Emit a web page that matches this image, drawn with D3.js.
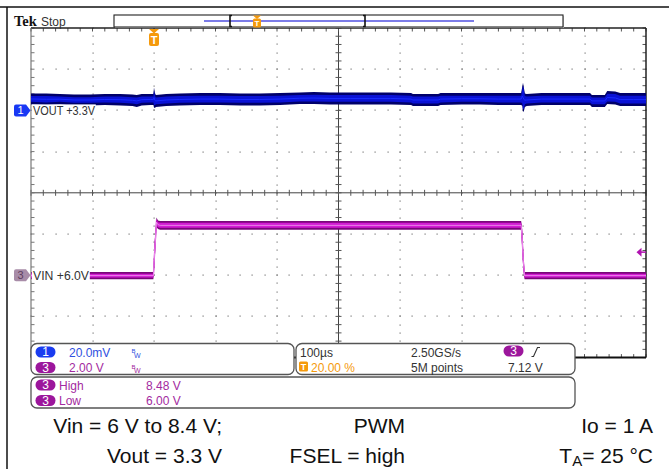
<!DOCTYPE html>
<html><head><meta charset="utf-8">
<script src="https://cdn.jsdelivr.net/npm/d3@7"></script>
<style>html,body{margin:0;padding:0;background:#fff;}svg{display:block;font-family:"Liberation Sans",Arial,sans-serif;}</style>
</head><body><div id="chart"></div>
<script>
// ---------------- DATA ----------------
const timeRange = [-200, 800];          // µs, 100 µs/div, trigger at 0 (20 %)
const ch1Range = [-120, 40];            // mV relative to the +3.3 V offset, 20 mV/div
const ch3Range = [2, 18];               // V, 2 V/div, offset 6 V
const ch1Offset = 0;                    // mV (VOUT +3.3V marker)
const ch3Offset = 6.0;                  // V  (VIN +6.0V marker)
const triggerLevel = 7.12;              // V

// VOUT band envelope (mV above 3.3 V)
const voutT  = [-200,-175,-153,-130,-104,-80,-55,-35,-28,-20,-6,-1,0,1.5,3,20,42,75,107,140,172,205,237,260,286,320,351,385,418,421,440,462,466,500,530,560,590,597,599,600,601.5,603,606,630,660,690,709,712,733,737,750,758,780,800];
const voutHi = [8.2,8.2,8.0,7.7,7.7,8.0,8.0,7.7,7.5,8.0,8.0,8.0,11.1,8.4,7.5,8.0,8.2,8.4,8.4,8.2,8.2,8.4,8.7,8.9,8.7,8.7,8.7,8.7,8.4,8.0,8.0,8.0,8.4,8.4,8.4,8.4,8.4,8.4,11.8,13.4,10.9,8.2,8.0,8.4,8.4,8.4,8.4,7.5,7.5,9.4,9.2,8.4,8.4,8.4];
const voutLo = [2.9,2.6,2.9,2.4,2.4,2.6,2.4,2.1,1.7,2.4,2.6,2.6,1.4,1.2,1.7,2.1,2.4,2.6,2.6,2.4,2.4,2.6,3.1,3.1,2.9,2.9,2.9,2.9,2.6,2.1,2.1,2.1,2.6,2.9,2.9,2.6,2.6,2.6,2.1,-0.8,-0.3,1.7,2.1,2.6,2.6,2.6,2.6,1.7,1.7,3.1,2.9,2.1,2.1,2.1];

// VIN band envelope (V)
const vinT  = [-200,-1,1,4,6.5,10,597,598.5,600.5,602.5,800];
const vinHi = [6.16,6.16,7.6,8.80,8.66,8.63,8.63,8.3,7.1,6.16,6.16];
const vinLo = [5.80,5.80,6.6,8.34,8.24,8.21,8.21,7.4,6.3,5.80,5.80];

// texts
const ch1Label = "VOUT +3.3V";
const ch3Label = "VIN +6.0V";
const ch1Scale = "20.0mV";
const ch3Scale = "2.00 V";
const timebase = "100µs";
const trigPos = "20.00 %";
const sampleRate = "2.50GS/s";
const recordLen = "5M points";
const trigLevelText = "7.12 V";
const measNames = ["High", "Low"];
const measValues = ["8.48 V", "6.00 V"];
const notesLeft = ["Vin = 6 V to 8.4 V;", "Vout = 3.3 V"];
const notesMid = ["PWM", "FSEL = high"];
const notesRight = ["Io = 1 A", "= 25 °C"];

// ---------------- DRAWING ----------------
const W = 669, H = 469;
const svg = d3.select('#chart').append('svg').attr('width', W).attr('height', H);
svg.append('rect').attr('width', W).attr('height', H).attr('fill', '#fff');

// outer frame lines
svg.append('line').attr('x1', 0).attr('x2', W).attr('y1', 7).attr('y2', 7).attr('stroke', '#111').attr('stroke-width', 1.5);
svg.append('line').attr('x1', 7).attr('x2', 7).attr('y1', 7).attr('y2', H).attr('stroke', '#111').attr('stroke-width', 1.5);

const L = 31, R = 646, T = 28, B = 357.6;
const x = d3.scaleLinear().domain(timeRange).range([L, R]);
const yOut = d3.scaleLinear().domain(ch1Range).range([B, T]);
const yIn = d3.scaleLinear().domain(ch3Range).range([B, T]);
const xDiv = (R - L) / 10, yDiv = (B - T) / 8;
const xMid = (L + R) / 2, yMid = (T + B) / 2;

// grid dots
const g = svg.append('g');
const dots = [];
for (let i = 1; i < 10; i++) {
  if (i === 5) continue;
  const gx = L + i * xDiv;
  for (let k = 0; k <= 40; k++) dots.push([gx, T + k * yDiv / 5]);
}
for (let j = 1; j < 8; j++) {
  if (j === 4) continue;
  const gy = T + j * yDiv;
  for (let k = 0; k <= 50; k++) dots.push([L + k * xDiv / 5, gy]);
}
g.selectAll('rect.dot').data(dots).join('rect').attr('class', 'dot')
  .attr('x', d => Math.round(d[0]) - 0.5).attr('y', d => Math.round(d[1]) - 0.5)
  .attr('width', 1.2).attr('height', 1.2).attr('fill', '#7a7a7a');

// centre cross with ticks
g.append('line').attr('x1', L).attr('x2', R).attr('y1', yMid).attr('y2', yMid).attr('stroke', '#444').attr('stroke-width', 1);
g.append('line').attr('x1', xMid).attr('x2', xMid).attr('y1', T).attr('y2', B).attr('stroke', '#444').attr('stroke-width', 1);
const ticksX = d3.range(0, 51).map(k => L + k * xDiv / 5);
const ticksY = d3.range(0, 41).map(k => T + k * yDiv / 5);
ticksX.forEach(tx => {
  g.append('line').attr('x1', tx).attr('x2', tx).attr('y1', yMid - 3).attr('y2', yMid + 3).attr('stroke', '#555');
  g.append('line').attr('x1', tx).attr('x2', tx).attr('y1', T).attr('y2', T + 3.5).attr('stroke', '#555');
  g.append('line').attr('x1', tx).attr('x2', tx).attr('y1', B - 3.5).attr('y2', B).attr('stroke', '#555');
});
ticksY.forEach(ty => {
  g.append('line').attr('x1', xMid - 3).attr('x2', xMid + 3).attr('y1', ty).attr('y2', ty).attr('stroke', '#555');
  g.append('line').attr('x1', L).attr('x2', L + 3.5).attr('y1', ty).attr('y2', ty).attr('stroke', '#777');
  g.append('line').attr('x1', R - 3.5).attr('x2', R).attr('y1', ty).attr('y2', ty).attr('stroke', '#555');
});
// border
g.append('line').attr('x1', L).attr('x2', R).attr('y1', T).attr('y2', T).attr('stroke', '#222').attr('stroke-width', 1.3);
g.append('line').attr('x1', R).attr('x2', R).attr('y1', T).attr('y2', B).attr('stroke', '#222').attr('stroke-width', 1.5);
g.append('line').attr('x1', L).attr('x2', R).attr('y1', B).attr('y2', B).attr('stroke', '#111').attr('stroke-width', 2);
g.append('line').attr('x1', L).attr('x2', L).attr('y1', T).attr('y2', B).attr('stroke', '#777').attr('stroke-width', 1.2);

// clip
svg.append('clipPath').attr('id', 'plotclip').append('rect').attr('x', L).attr('y', T).attr('width', R - L).attr('height', B - T);
const traces = svg.append('g').attr('clip-path', 'url(#plotclip)');

// VOUT trace
const vout = voutT.map((t, i) => ({ t, hi: voutHi[i], lo: voutLo[i] }));
traces.append('path').datum(vout).attr('fill', '#00006a')
  .attr('d', d3.area().x(d => x(d.t)).y1(d => yOut(d.hi)).y0(d => yOut(d.lo)));
traces.append('path').datum(vout).attr('fill', '#0a12d6')
  .attr('d', d3.area().x(d => x(d.t)).y1(d => yOut(d.hi) + 2.6).y0(d => yOut(d.lo) - 2.6));
traces.append('path').datum(vout).attr('fill', 'none').attr('stroke', '#1a2cff').attr('stroke-width', 1)
  .attr('d', d3.line().x(d => x(d.t)).y(d => yOut((d.hi + d.lo) / 2)));

// VIN trace
const vin = vinT.map((t, i) => ({ t, hi: vinHi[i], lo: vinLo[i] }));
traces.append('path').datum(vin).attr('fill', '#7a067a')
  .attr('d', d3.area().x(d => x(d.t)).y1(d => yIn(d.hi)).y0(d => yIn(d.lo)));
traces.append('path').datum(vin).attr('fill', '#d41ad4')
  .attr('d', d3.area().x(d => x(d.t)).y1(d => yIn(d.hi) + 1.8).y0(d => yIn(d.lo) - 1.8));
traces.append('path').datum(vin).attr('fill', 'none').attr('stroke', '#c010c0').attr('stroke-width', 1.3)
  .attr('d', d3.line().x(d => x(d.t)).y(d => yIn((d.hi + d.lo) / 2)));
traces.append('path').datum(vin).attr('fill', 'none').attr('stroke', '#f6a6f6').attr('stroke-width', 0.8)
  .attr('d', d3.line().x(d => x(d.t)).y(d => yIn((d.hi + d.lo) / 2)));

// channel labels with background
function chanLabel(txt, yy, len) {
  svg.append('rect').attr('x', L + 0.8).attr('y', yy - 6).attr('width', len + 2).attr('height', 12).attr('fill', '#fff');
  svg.append('text').attr('x', L + 2).attr('y', yy + 4.6).attr('font-size', 12).attr('fill', '#333')
    .attr('textLength', len).attr('lengthAdjust', 'spacingAndGlyphs').text(txt);
}
chanLabel(ch1Label, yOut(ch1Offset), 62);
chanLabel(ch3Label, yIn(ch3Offset), 56);

// channel markers
function marker(yy, fill, txt, tcol) {
  svg.append('path').attr('d', `M16,${yy - 6} L26,${yy - 6} L30.5,${yy} L26,${yy + 6} L16,${yy + 6} Q14,${yy + 6} 14,${yy + 4} L14,${yy - 4} Q14,${yy - 6} 16,${yy - 6} Z`).attr('fill', fill);
  svg.append('text').attr('x', 20.5).attr('y', yy + 4).attr('text-anchor', 'middle').attr('font-size', 11).attr('fill', tcol).text(txt);
}
marker(yOut(ch1Offset), '#1838f4', '1', '#fff');
marker(yIn(ch3Offset), '#a88ca8', '3', '#5e3e5e');

// trigger level arrow
const ty = yIn(triggerLevel);
svg.append('path').attr('d', `M636.5,${ty} L641.5,${ty - 4.5} L641.5,${ty + 4.5} Z`).attr('fill', '#b012b0');
svg.append('line').attr('x1', 640).attr('x2', 646).attr('y1', ty).attr('y2', ty).attr('stroke', '#b012b0').attr('stroke-width', 1.5);

// trigger position marker
const tx0 = x(0);
const orange = '#f59a0c';
svg.append('path').attr('d', `M${tx0 - 5},29 L${tx0 + 5},29 L${tx0},33.5 Z`).attr('fill', orange);
svg.append('rect').attr('x', tx0 - 5).attr('y', 33).attr('width', 10).attr('height', 13).attr('rx', 2).attr('fill', orange);
svg.append('text').attr('x', tx0).attr('y', 44).attr('text-anchor', 'middle').attr('font-size', 11).attr('font-weight', 'bold').attr('fill', '#fff').text('T');

// top: Tek Stop
svg.append('text').attr('x', 14).attr('y', 26).attr('font-family', '"Liberation Serif","Times New Roman",serif').attr('font-weight', 'bold').attr('font-size', 14.5).attr('fill', '#111').text('Tek');
svg.append('text').attr('x', 41).attr('y', 26).attr('font-size', 12).attr('fill', '#333').text('Stop');

// record bar
svg.append('rect').attr('x', 115).attr('y', 16).attr('width', 449).attr('height', 12).attr('fill', '#ccc');
svg.append('rect').attr('x', 114).attr('y', 15).attr('width', 449).attr('height', 12).attr('fill', '#fff').attr('stroke', '#222').attr('stroke-width', 1.1);
svg.append('line').attr('x1', 204).attr('x2', 474).attr('y1', 21).attr('y2', 21).attr('stroke', '#7c7ce8').attr('stroke-width', 2);
[230, 365].forEach((bx, i) => {
  const dir = i === 0 ? 1 : -1;
  svg.append('path').attr('d', `M${bx + 2 * dir},15.5 L${bx},15.5 L${bx},26.5 L${bx + 2 * dir},26.5`).attr('fill', 'none').attr('stroke', '#111').attr('stroke-width', 1.6);
});
svg.append('path').attr('d', 'M253,15.5 L261,15.5 L257,19 Z').attr('fill', orange);
svg.append('rect').attr('x', 253).attr('y', 18.5).attr('width', 8).attr('height', 9).attr('rx', 1.5).attr('fill', orange);
svg.append('text').attr('x', 257).attr('y', 26).attr('text-anchor', 'middle').attr('font-size', 8).attr('font-weight', 'bold').attr('fill', '#fff').text('T');

// info boxes
function rbox(x0, y0, x1, y1) {
  svg.append('rect').attr('x', x0).attr('y', y0).attr('width', x1 - x0).attr('height', y1 - y0).attr('rx', 6)
    .attr('fill', '#fff').attr('stroke', '#555').attr('stroke-width', 1.3);
}
rbox(31, 343.5, 294, 374.5);
rbox(296, 343.5, 575, 374.5);
rbox(31, 377, 575, 408);

function pill(cx, cy, fill, txt) {
  svg.append('rect').attr('x', cx - 10).attr('y', cy - 5.5).attr('width', 20).attr('height', 11).attr('rx', 5.5).attr('fill', fill);
  svg.append('text').attr('x', cx).attr('y', cy + 4.3).attr('text-anchor', 'middle').attr('font-size', 12).attr('fill', '#fff').text(txt);
}
const c1 = '#1a3cf0', c3 = '#9c169c', c1t = '#2f4fe0', c3t = '#a32aa0';
pill(45.5, 352, c1, '1');
pill(45.5, 367.5, c3, '3');
svg.append('text').attr('x', 69).attr('y', 356.5).attr('font-size', 12).attr('fill', c1t).text(ch1Scale);
svg.append('text').attr('x', 69).attr('y', 372).attr('font-size', 12).attr('fill', c3t).text(ch3Scale);
[[352, c1t], [367.5, c3t]].forEach(([cy, col]) => {
  svg.append('text').attr('x', 131.5).attr('y', cy + 1).attr('font-size', 6).attr('fill', col).text('B');
  svg.append('text').attr('x', 134).attr('y', cy + 5.5).attr('font-size', 7).attr('fill', col).text('W');
});

// box 2
svg.append('text').attr('x', 300).attr('y', 356.5).attr('font-size', 12).attr('fill', '#333').text(timebase);
svg.append('rect').attr('x', 299).attr('y', 361.5).attr('width', 9).attr('height', 10).attr('rx', 1.5).attr('fill', orange);
svg.append('text').attr('x', 303.5).attr('y', 370).attr('text-anchor', 'middle').attr('font-size', 9).attr('font-weight', 'bold').attr('fill', '#fff').text('T');
svg.append('text').attr('x', 311).attr('y', 372).attr('font-size', 12).attr('fill', orange).text(trigPos);
svg.append('text').attr('x', 411).attr('y', 356.5).attr('font-size', 12).attr('fill', '#333').text(sampleRate);
svg.append('text').attr('x', 411).attr('y', 372).attr('font-size', 12).attr('fill', '#333').text(recordLen);
pill(513.5, 351, c3, '3');
svg.append('path').attr('d', 'M531.5,356.5 L533.5,356.5 L537.5,347.5 L540,347.5').attr('fill', 'none').attr('stroke', '#333').attr('stroke-width', 1.1);
svg.append('text').attr('x', 508).attr('y', 372).attr('font-size', 12).attr('fill', '#333').text(trigLevelText);

// box 3 (measurements)
measNames.forEach((nm, i) => {
  const cy = 385 + i * 15.5;
  pill(45.5, cy, c3, '3');
  svg.append('text').attr('x', 59).attr('y', cy + 4.5).attr('font-size', 12).attr('fill', c3t).text(nm);
  svg.append('text').attr('x', 146).attr('y', cy + 4.5).attr('font-size', 12).attr('fill', c3t).text(measValues[i]);
});

// bottom notes
const nb = [433, 463];
notesLeft.forEach((s, i) => svg.append('text').attr('x', 222).attr('y', nb[i]).attr('text-anchor', 'end').attr('font-size', 21).attr('fill', '#111').text(s));
notesMid.forEach((s, i) => svg.append('text').attr('x', 405).attr('y', nb[i]).attr('text-anchor', 'end').attr('font-size', 21).attr('fill', '#111').text(s));
svg.append('text').attr('x', 653).attr('y', nb[0]).attr('text-anchor', 'end').attr('font-size', 21).attr('fill', '#111').text(notesRight[0]);
const ta = svg.append('text').attr('x', 653).attr('y', nb[1]).attr('text-anchor', 'end').attr('font-size', 21).attr('fill', '#111');
ta.append('tspan').text('T');
ta.append('tspan').attr('font-size', 15).attr('dy', 3).text('A');
ta.append('tspan').attr('dy', -3).text(notesRight[1]);
</script></body></html>
